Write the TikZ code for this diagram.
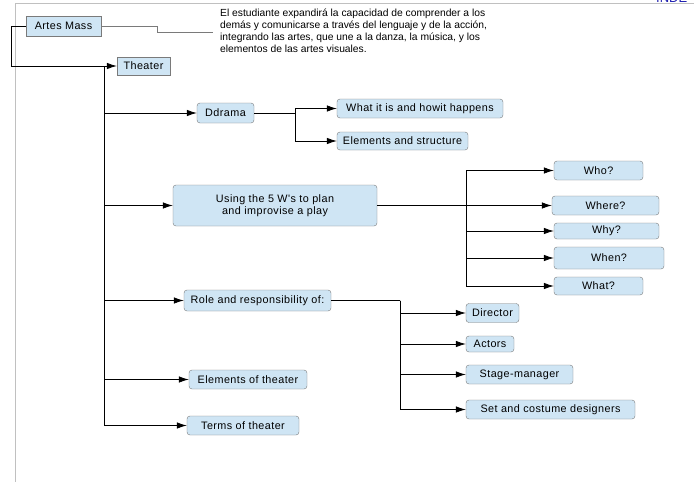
\documentclass[tikz,border=0pt]{standalone}
\usepackage{fontspec}
\setmainfont{Liberation Sans}
\newfontfamily\boxfont{Liberation Sans}[LetterSpace=4]
\usetikzlibrary{positioning, arrows.meta, calc}

\definecolor{boxfill}{HTML}{CFE5F4}
\definecolor{boxedge}{HTML}{7A7A7A}
\definecolor{pageedge}{HTML}{C0C0C0}
\definecolor{tabblue}{HTML}{2020B0}

\tikzset{
  topic/.style 2 args={draw=boxedge, fill=boxfill, rounded corners=3pt,
    minimum width=#1, minimum height=#2, inner sep=0pt,
    font=\boxfont\fontsize{10.8}{12.5}\selectfont},
  square/.style 2 args={topic={#1}{#2}, sharp corners},
  branch/.style={draw=black, line width=0.8pt, -{Latex[length=10pt,width=6.5pt]}},
  trunkline/.style={draw=black, line width=0.8pt},
  noteline/.style={draw=boxedge, line width=0.6pt},
  elbow/.style={to path={|- (\tikztotarget)}}
}

\begin{document}
\begin{tikzpicture}[x=1pt, y=-1pt]
        \useasboundingbox (0,0) rectangle (694,482);
        % page frame
        \begin{scope}
          \clip (0,0) rectangle (694,482);
          \draw[pageedge, line width=1pt] (15,482) -- (15,3.5) -- (694,3.5);
          \node[anchor=base west, text=tabblue, font=\fontsize{13}{13}\selectfont, inner sep=0pt] (tab) at (656,2.5) {INDE};
        \end{scope}

        \node[square={75pt}{20pt}]  (mass)    at (63.5,26)  {Artes Mass};
        \node[square={53pt}{18pt}]  (theater) at (143.5,66) {Theater};
        \node[anchor=north west, align=left, inner sep=0pt,
              font=\fontsize{10.3}{12}\selectfont] (goal) at (220,8.5)
          {El estudiante expandirá la capacidad de comprender a los\\
           demás y comunicarse a través del lenguaje y de la acción,\\
           integrando las artes, que une a la danza, la música, y los\\
           elementos de las artes visuales.};

        % first level
        \node[topic={57pt}{20pt}]  (drama)   at (225.5,113)   {Ddrama};
        \node[topic={204pt}{41pt}, align=center] (plan) at (275,205.5)
          {Using the 5 W's to plan\\ and improvise a play};
        \node[topic={147pt}{21pt}] (role)    at (257.5,300.5) {Role and responsibility of:};
        \node[topic={118pt}{19pt}] (elems)   at (248,379.5)   {Elements of theater};
        \node[topic={112pt}{19pt}] (terms)   at (243,425.5)   {Terms of theater};

        % drama
        \node[topic={166pt}{19pt}] (howit)   at (420,108.5)   {What it is and howit happens};
        \node[topic={131pt}{18pt}] (struct)  at (402.5,141)   {Elements and structure};

        % the five W's
        \node[topic={89pt}{19pt}]  (who)     at (598.5,170.5) {Who?};
        \node[topic={107pt}{19pt}] (where)   at (605.5,205.5) {Where?};
        \node[topic={105pt}{16pt}] (why)     at (606.5,231)   {Why?};
        \node[topic={110pt}{22pt}] (when)    at (609,258)     {When?};
        \node[topic={89pt}{18pt}]  (what)    at (598.5,286)   {What?};

        % roles
        \node[topic={53pt}{19pt}]  (director) at (492.5,313)  {Director};
        \node[topic={48pt}{16pt}]  (actors)   at (490,344)    {Actors};
        \node[topic={107pt}{19pt}] (stage)    at (519.5,374.5) {Stage-manager};
        \node[topic={169pt}{19pt}] (designers) at (550.5,409.5) {Set and costume designers};

        \coordinate (trunk)  at (104,66);
        \coordinate (dsplit) at (295,113);
        \coordinate (wsplit) at (466,205.5);
        \coordinate (rsplit) at (400,300.5);
        \coordinate (notein) at (213,32);

        \draw[noteline] (mass.east) -- ++(56,0) |- (notein);
        \draw[branch] (mass.west) -- ++(-14,0) |- (theater.west);

        \path
          (trunk) edge[branch, elbow] (drama.west)
          (trunk) edge[branch, elbow] (plan.west)
          (trunk) edge[branch, elbow] (role.west)
          (trunk) edge[branch, elbow] (elems.west)
          (trunk) edge[branch, elbow] (terms.west);

        \draw[trunkline] (drama.east) -- (dsplit);
        \path
          (dsplit) edge[branch, elbow] (howit.west)
          (dsplit) edge[branch, elbow] (struct.west);

        \draw[branch] (plan.east) -- (where.west);
        \path
          (wsplit) edge[branch, elbow] (who.west)
          (wsplit) edge[branch, elbow] (why.west)
          (wsplit) edge[branch, elbow] (when.west)
          (wsplit) edge[branch, elbow] (what.west);

        \draw[trunkline] (role.east) -- (rsplit);
        \path
          (rsplit) edge[branch, elbow] (director.west)
          (rsplit) edge[branch, elbow] (actors.west)
          (rsplit) edge[branch, elbow] (stage.west)
          (rsplit) edge[branch, elbow] (designers.west);
      \end{tikzpicture}
\end{document}
